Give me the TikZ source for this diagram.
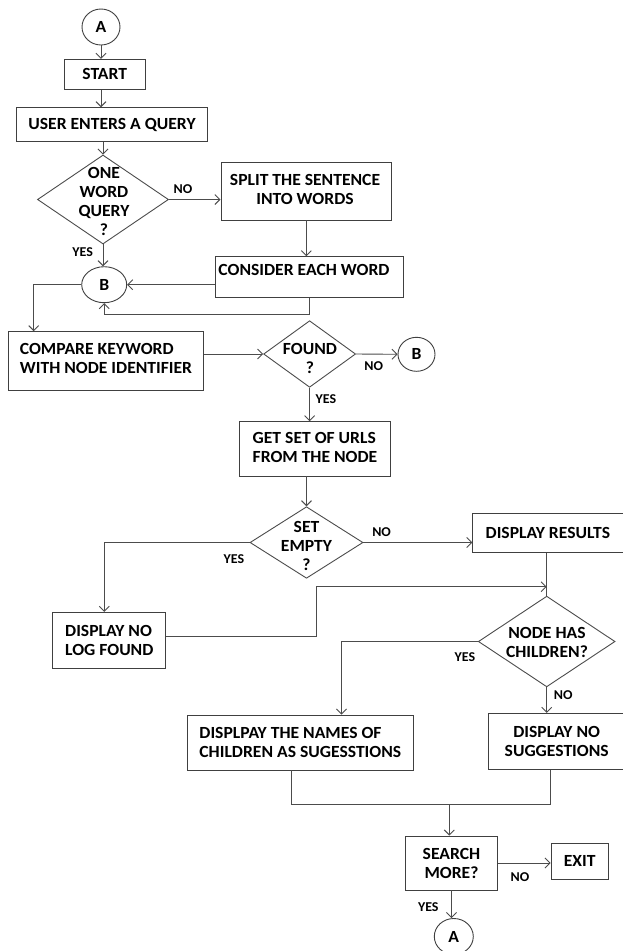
\documentclass[tikz,border=0pt]{standalone}
\usepackage{fontspec}
\setmainfont{Carlito}[FakeStretch=1.035]
\usetikzlibrary{shapes.geometric,arrows.meta,calc}
\begin{document}
\begin{tikzpicture}[x=1pt,y=-1pt,
  every node/.style={font=\bfseries\fontsize{17}{19}\selectfont, text=black},
  box/.style={draw=black!75, line width=0.9pt, rectangle, inner sep=2pt, align=center},
  dia/.style={draw=black!70, line width=0.9pt, diamond, inner sep=0pt},
  con/.style={draw=black!75, line width=0.9pt, ellipse, inner sep=0pt},
  lbl/.style={font=\bfseries\fontsize{13.5}{15}\selectfont, inner sep=0pt},
  txt/.style={align=center, inner sep=0pt},
  line/.style={draw=black!70, line width=0.9pt},
  arr/.style={line, -{Straight Barb[length=5pt,width=10pt]}}
]
\fill[white] (0,0) rectangle (622,951);
\useasboundingbox (0,0) rectangle (622,951);

% nodes
\node[con, minimum width=38pt, minimum height=36pt] (A1) at (101,27) {A};
\node[box, minimum width=80.7pt, minimum height=30pt] (start) at (104.7,74.3) {START};
\node[box, minimum width=190.6pt, minimum height=34pt] (user) at (112,124.7) {USER ENTERS A QUERY};
\node[dia, minimum width=131pt, minimum height=89pt] (one) at (103,199.5) {};
\node[txt] (one-t) at (104,201.5) {ONE\\WORD\\QUERY\\?};
\node[box, minimum width=170.7pt, minimum height=57.3pt] (split) at (306.3,191.3) {};
\node[txt] (split-t) at (305,189) {SPLIT THE SENTENCE\\INTO WORDS};
\node[box, minimum width=188.3pt, minimum height=41pt] (consider) at (309.2,277.2) {};
\node[txt] (consider-t) at (304,269.5) {CONSIDER EACH WORD};
\node[con, minimum width=45pt, minimum height=36pt] (B1) at (104.2,284.7) {B};
\node[box, minimum width=194.8pt, minimum height=58.3pt] (compare) at (106.1,360.8) {};
\node[txt, align=left] (compare-t) at (106,358) {COMPARE KEYWORD\\WITH NODE IDENTIFIER};
\node[dia, minimum width=92pt, minimum height=66.6pt] (found) at (309.6,354) {};
\node[txt] (found-t) at (310,358) {FOUND\\?};
\node[con, minimum width=37pt, minimum height=34pt] (B2) at (416.5,354.3) {B};
\node[box, minimum width=151.1pt, minimum height=54.3pt] (getset) at (315.2,448.8) {};
\node[txt, align=left] (getset-t) at (315,447.5) {GET SET OF URLS\\FROM THE NODE};
\node[dia, minimum width=113pt, minimum height=71.6pt] (empty) at (306.5,542.5) {};
\node[txt] (empty-t) at (306.5,546) {SET\\EMPTY\\?};
\node[box, minimum width=150.3pt, minimum height=39.4pt] (results) at (547.9,533) {DISPLAY RESULTS};
\node[box, align=left, minimum width=113pt, minimum height=56pt] (nolog) at (109.3,640.3) {DISPLAY NO\\LOG FOUND};
\node[dia, minimum width=136.7pt, minimum height=90.7pt] (children) at (546.7,641.5) {};
\node[txt] (children-t) at (547,642) {NODE HAS\\CHILDREN?};
\node[box, align=left, minimum width=226pt, minimum height=55pt] (names) at (300.3,742.5) {DISPLPAY THE NAMES OF\\CHILDREN AS SUGESSTIONS};
\node[box, minimum width=136.7pt, minimum height=56pt] (nosugg) at (556.7,741.3) {DISPLAY NO\\SUGGESTIONS};
\node[box, minimum width=91.6pt, minimum height=54pt] (search) at (451.5,863) {SEARCH\\MORE?};
\node[box, minimum width=57.3pt, minimum height=36pt] (exit) at (579.7,861.3) {EXIT};
\node[con, minimum width=39pt, minimum height=36pt] (A2) at (453.8,936.5) {A};

% labels
\node[lbl] (l1) at (183,189) {NO};
\node[lbl] (l2) at (82.7,252) {YES};
\node[lbl] (l3) at (373.7,365.7) {NO};
\node[lbl] (l4) at (326,399) {YES};
\node[lbl] (l5) at (381.6,532.3) {NO};
\node[lbl] (l6) at (234,559) {YES};
\node[lbl] (l7) at (464.9,657.3) {YES};
\node[lbl] (l8) at (563.3,695) {NO};
\node[lbl] (l9) at (520,876.7) {NO};
\node[lbl] (l10) at (428.3,906.7) {YES};

% coordinates
\coordinate (bl) at (33.7,284.7);
\coordinate (cb) at (309.2,314.7);
\coordinate (nl1) at (316.1,636.7);
\coordinate (join) at (546.7,586.7);
\coordinate (yl) at (341.5,641.5);
\coordinate (ml) at (291,804);
\coordinate (mr) at (550,804);
\coordinate (merge) at (449.3,804);
\coordinate (el) at (104.3,542.5);

% connectors
\draw[arr] (A1.south) -- (A1.south |- start.north);
\draw[arr] (A1.south |- start.south) -- (A1.south |- user.north);
\draw[arr] (one.north |- user.south) -- (one.north);
\draw[arr] (one.east) -- (one.east -| split.west);
\draw[arr] (split.south) -- (split.south |- consider.north);
\draw[arr] (one.south) -- (one.south |- B1.north);
\draw[arr] (consider.west |- B1.east) -- (B1.east);
\draw[arr] (consider.south) -- (cb) -| (B1.south);
\draw[arr] (B1.west) -- (bl) -- (bl |- compare.north);
\draw[arr] (found.west -| compare.east) -- (found.west);
\draw[arr] (found.east) -- (B2.west);
\draw[arr] (found.south) -- (found.south |- getset.north);
\draw[arr] (empty.north |- getset.south) -- (empty.north);
\draw[arr] (empty.east) -- (empty.east -| results.west);
\draw[arr] (empty.west) -- (el) -- (el |- nolog.north);
\draw[arr] (nolog.east |- nl1) -- (nl1) |- (join);
\draw[line] (children.north |- results.south) -- (children.north);
\draw[arr] (children.west) -- (yl) -- (yl |- names.north);
\draw[arr] (children.south) -- (children.south |- nosugg.north);
\draw[line] (ml |- names.south) -- (ml) -- (mr) -- (mr |- nosugg.south);
\draw[arr] (merge) -- (merge |- search.north);
\draw[arr] (search.east) -- (search.east -| exit.west);
\draw[arr] (search.south) -- (search.south |- A2.north);
\end{tikzpicture}
\end{document}
